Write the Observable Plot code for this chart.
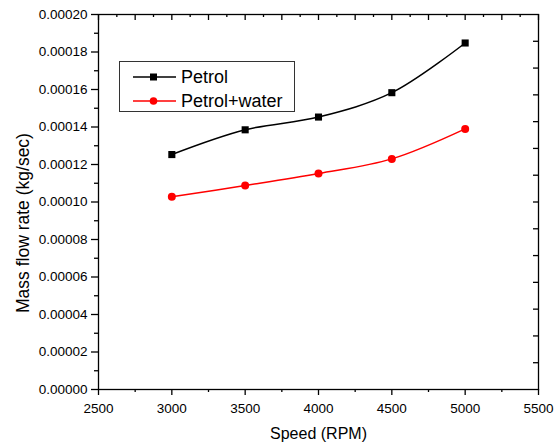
<!DOCTYPE html>
<html>
<head>
<meta charset="utf-8">
<script src="https://cdn.jsdelivr.net/npm/d3@7"></script>
<script src="https://cdn.jsdelivr.net/npm/@observablehq/plot@0.6"></script>
<style>
  html, body { margin: 0; padding: 0; background: #fff; }
  #wrap { position: relative; width: 555px; height: 447px; font-family: "Liberation Sans", Arial, sans-serif; }
  #legend { position: absolute; left: 119px; top: 61px; width: 176px; height: 51px; border: 1px solid #333; background: #fff; box-sizing: border-box; font-size: 18px; }
  .row { position: absolute; left: 13px; height: 22px; white-space: nowrap; }
  .row svg { position: absolute; left: 0; top: 0; }
  .row span { position: absolute; left: 48px; top: 0; line-height: 22px; }
</style>
</head>
<body>
<div id="wrap">
  <div id="chart"></div>
  <div id="legend"></div>
</div>
<script>
const speeds = [3000, 3500, 4000, 4500, 5000];
const petrol = [0.0001253, 0.0001385, 0.0001453, 0.0001583, 0.0001848];
const petrolWater = [0.0001028, 0.0001088, 0.0001152, 0.0001230, 0.0001390];
const seriesNames = ["Petrol", "Petrol+water"];
const seriesColors = ["#000000", "#ff0000"];
const seriesSymbols = ["square", "circle"];
const xTicks = [2500, 3000, 3500, 4000, 4500, 5000, 5500];
const xMinor = [2750, 3250, 3750, 4250, 4750, 5250];
const xTopMajor = d3.range(2500, 5501, 250);
const xTopMinor = d3.range(2625, 5500, 250);
const yTicks = [0, 0.00002, 0.00004, 0.00006, 0.00008, 0.0001, 0.00012, 0.00014, 0.00016, 0.00018, 0.0002];
const yMinor = [0.00001, 0.00003, 0.00005, 0.00007, 0.00009, 0.00011, 0.00013, 0.00015, 0.00017, 0.00019];
const yRightTicks = d3.range(1, 14).map(k => k * 0.0002 / 14);

const rows = [];
[petrol, petrolWater].forEach((vals, i) => {
  speeds.forEach((s, j) => rows.push({speed: s, value: vals[j], series: seriesNames[i]}));
});

const W = 555, H = 447, mL = 98, mR = 17, mT = 14, mB = 58;
const pw = W - mL - mR, ph = H - mT - mB;
const font = "Liberation Sans, Arial, sans-serif";
const tk = {stroke: "#000", strokeWidth: 1.3};

const chart = Plot.plot({
  width: W,
  height: H,
  marginLeft: mL,
  marginRight: mR,
  marginTop: mT,
  marginBottom: mB,
  style: {fontFamily: font, fontSize: "13.5px", color: "#000", background: "#fff"},
  x: {domain: [2500, 5500]},
  y: {domain: [0, 0.0002]},
  color: {domain: seriesNames, range: seriesColors},
  symbol: {domain: seriesNames, range: seriesSymbols},
  marks: [
    Plot.axisX({ticks: xTicks, tickSize: 0, tickPadding: 14, tickFormat: d3.format("d"), label: null, fontSize: 13.5}),
    Plot.axisY({ticks: yTicks, tickSize: 0, tickPadding: 11, tickFormat: d3.format(".5f"), label: null, fontSize: 13.5}),
    Plot.ruleX(xTicks, {...tk, insetTop: ph, insetBottom: -6}),
    Plot.ruleX(xMinor, {...tk, insetTop: ph, insetBottom: -3}),
    Plot.ruleX(xTopMajor, {...tk, insetTop: 0, insetBottom: ph - 6}),
    Plot.ruleX(xTopMinor, {...tk, insetTop: 0, insetBottom: ph - 3}),
    Plot.ruleY(yTicks, {...tk, insetLeft: -7, insetRight: pw}),
    Plot.ruleY(yMinor, {...tk, insetLeft: -4, insetRight: pw}),
    Plot.ruleY(yRightTicks, {...tk, insetLeft: pw - 5, insetRight: 0}),
    Plot.frame({stroke: "#000", strokeWidth: 1.3}),
    Plot.line(rows, {x: "speed", y: "value", z: "series", stroke: "series", strokeWidth: 1.5, curve: "catmull-rom"}),
    Plot.dot(rows, {x: "speed", y: "value", fill: "series", symbol: "series", r: 4, stroke: "none"}),
    Plot.text(["Speed (RPM)"], {frameAnchor: "bottom", lineAnchor: "middle", textAnchor: "middle", dy: 44, fontSize: 16, text: d => d}),
    Plot.text(["Mass flow rate (kg/sec)"], {frameAnchor: "left", textAnchor: "middle", lineAnchor: "middle", dx: -75, dy: 21, rotate: -90, fontSize: 17.5, text: d => d})
  ]
});
document.getElementById("chart").appendChild(chart);

const legend = document.getElementById("legend");
seriesNames.forEach((name, i) => {
  const row = document.createElement("div");
  row.className = "row";
  row.style.top = (4 + i * 24) + "px";
  const sym = seriesSymbols[i] === "square"
    ? `<rect x="17" y="7.5" width="7" height="7" fill="${seriesColors[i]}"/>`
    : `<circle cx="20.5" cy="11" r="3.8" fill="${seriesColors[i]}"/>`;
  row.innerHTML = `<svg width="44" height="22"><line x1="0" x2="43" y1="11" y2="11" stroke="${seriesColors[i]}" stroke-width="1.5"/>${sym}</svg><span>${name}</span>`;
  legend.appendChild(row);
});
</script>
</body>
</html>
